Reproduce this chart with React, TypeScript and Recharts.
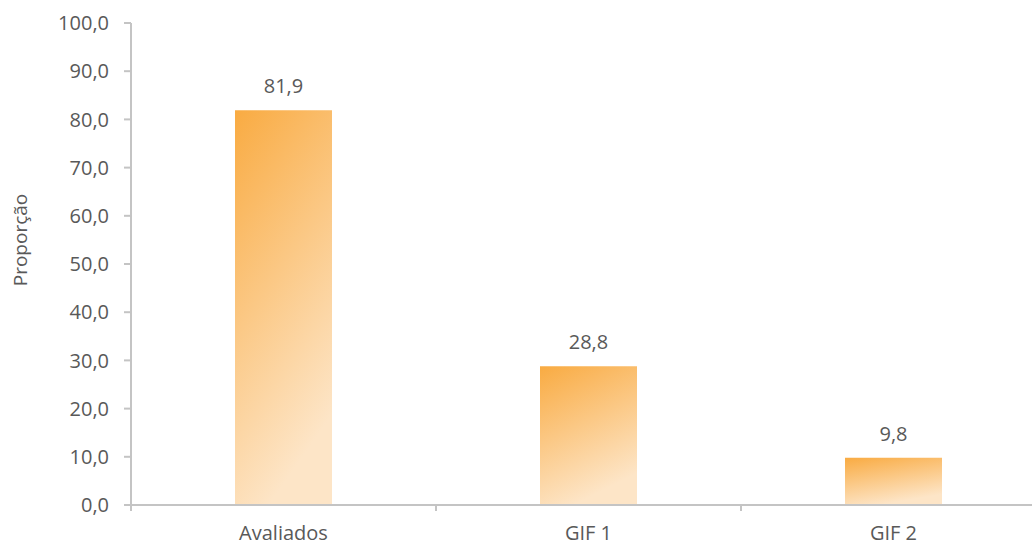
import { Bar, BarChart, LabelList, XAxis, YAxis } from "recharts";

const categorias = ["Avaliados", "GIF 1", "GIF 2"];
const proporcao = [81.9, 28.8, 9.8];
const ticksY = [0, 10, 20, 30, 40, 50, 60, 70, 80, 90, 100];

const data = categorias.map((c, i) => ({ categoria: c, valor: proporcao[i] }));

const FONT = "'Open Sans', sans-serif";
const TEXT = "#595959";
const AXIS = "#c4c4c4";

const fmt = (v: number) => v.toFixed(1).replace(".", ",");

const CHART_W = 1050;
const PLOT_LEFT = 131;
const PLOT_RIGHT = 4;
const BAND = (CHART_W - PLOT_LEFT - PLOT_RIGHT) / categorias.length;

function CategoryTick(props: any) {
  const { x, y, payload, index } = props;
  const half = BAND / 2;
  const top = y - 8;
  return (
    <g>
      <line x1={x - half} x2={x - half} y1={top} y2={top + 6} stroke={AXIS} strokeWidth={2} />
      {index === categorias.length - 1 && (
        <line x1={x + half} x2={x + half} y1={top} y2={top + 6} stroke={AXIS} strokeWidth={2} />
      )}
      <text x={x} y={y + 27} textAnchor="middle" fill={TEXT} fontSize={20} fontFamily={FONT}>
        {payload.value}
      </text>
    </g>
  );
}

function YTitle() {
  return (
    <text
      x={0}
      y={0}
      transform="translate(27 240) rotate(-90)"
      textAnchor="middle"
      fill={TEXT}
      fontSize={19}
      fontFamily={FONT}
    >
      Proporção
    </text>
  );
}

export default function App() {
  return (
    <div
      style={{
        position: "absolute",
        left: 0,
        top: 0,
        width: 1032,
        height: 546,
        overflow: "hidden",
        background: "#fff"
      }}
    >
      <BarChart width={CHART_W} height={546} data={data} margin={{ top: 23, right: PLOT_RIGHT, bottom: 0, left: 0 }}>
        <defs>
          <linearGradient id="barra" x1="0" y1="0" x2="0.35" y2="1">
            <stop offset="0%" stopColor="#f9ab42" />
            <stop offset="100%" stopColor="#fde5c7" />
          </linearGradient>
        </defs>
        <XAxis
          dataKey="categoria"
          height={41}
          tickLine={false}
          axisLine={{ stroke: AXIS, strokeWidth: 2 }}
          tick={<CategoryTick />}
          interval={0}
        />
        <YAxis
          domain={[0, 100]}
          ticks={ticksY}
          width={PLOT_LEFT}
          tickFormatter={fmt}
          tickSize={7}
          tickMargin={15}
          tickLine={{ stroke: AXIS, strokeWidth: 2 }}
          axisLine={{ stroke: AXIS, strokeWidth: 2 }}
          tick={{ fill: TEXT, fontSize: 20, fontFamily: FONT }}
          label={<YTitle />}
        />
        <Bar dataKey="valor" fill="url(#barra)" barSize={97} isAnimationActive={false}>
          <LabelList
            dataKey="valor"
            position="top"
            offset={17}
            formatter={(v: any) => fmt(Number(v))}
            fill={TEXT}
            fontSize={20}
            fontFamily={FONT}
          />
        </Bar>
      </BarChart>
    </div>
  );
}
